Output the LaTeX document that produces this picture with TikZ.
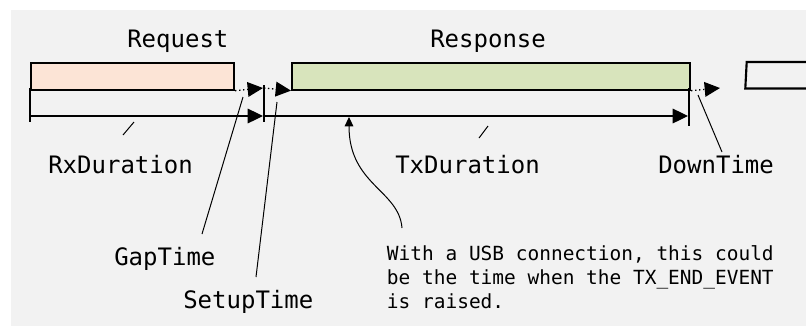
\documentclass[tikz,border=0pt]{standalone}
\usepackage{fontspec}
\setmonofont{DejaVu Sans Mono}
\usetikzlibrary{arrows.meta}
\definecolor{panel}{HTML}{F2F2F2}
\definecolor{reqfill}{HTML}{FCE4D6}
\definecolor{respfill}{HTML}{D8E4BC}
\begin{document}
\begin{tikzpicture}[x=0.75pt,y=-0.75pt,
  frame/.style={draw=black,line width=1.6pt},
  timeline/.style={line width=0.9pt},
  gapline/.style={line width=1pt,dotted},
  tip/.style={-{Triangle[length=11.5pt,width=11pt]}},
  tick/.style={line width=0.9pt},
  leader/.style={line width=0.75pt},
  biglabel/.style={anchor=base west,inner sep=0pt,font=\ttfamily\fontsize{18}{22}\selectfont},
  notelabel/.style={anchor=north west,inner sep=0pt,align=left,font=\ttfamily\fontsize{14.6}{18}\selectfont}]
\useasboundingbox (0,0) rectangle (806,326);
\fill[panel] (11,10) rectangle (806,326);

% frames on the bus
\node[frame,fill=reqfill,anchor=north west,minimum width=203*0.75pt,minimum height=27*0.75pt,inner sep=0pt] (req) at (30,61.5) {};
\node[frame,fill=respfill,anchor=north west,minimum width=398*0.75pt,minimum height=27*0.75pt,inner sep=0pt] (resp) at (291,61.5) {};
\draw[frame,fill=panel] (806,62) -- (746.7,62) -- (745.3,88.5) -- (806,88.5);

% tick marks of the time axis
\coordinate (t0top) at (30,88);   \coordinate (t0bot) at (30,122);
\coordinate (t1top) at (264,85);  \coordinate (t1bot) at (264,122);
\coordinate (t2top) at (689,88);  \coordinate (t2bot) at (689,126);
\draw[tick] (t0top) -- (t0bot);
\draw[tick] (t1top) -- (t1bot);
\draw[tick] (t2top) -- (t2bot);

% gap, setup and down times
\coordinate (gapend) at (263,88);
\coordinate (downend) at (720,88);
\draw[gapline,tip] (req.south east) -- (gapend);
\draw[gapline,tip] (t1top |- gapend) -- (resp.south west);
\draw[gapline,tip] (resp.south east) -- (downend);

% durations
\coordinate (rxstart) at (30,116);
\coordinate (rxend) at (263,116);
\coordinate (txstart) at (264,116);
\coordinate (txend) at (688,116);
\draw[timeline,tip] (rxstart) -- (rxend);
\draw[timeline,tip] (txstart) -- (txend);

% labels
\node[biglabel] (lreq) at (127,47) {Request};
\node[biglabel] (lresp) at (430,47) {Response};
\node[biglabel] (lrx) at (48,173) {RxDuration};
\node[biglabel] (ltx) at (395,173.5) {TxDuration};
\node[biglabel] (ldown) at (658,173) {DownTime};
\node[biglabel] (lgap) at (114,265.5) {GapTime};
\node[biglabel] (lsetup) at (183,308) {SetupTime};
\node[notelabel] (note) at (386.7,245.5) {With a USB connection, this could\\be the time when the TX\_END\_EVENT\\is raised.};

% label leaders
\draw[leader] (123,135) -- (134,122);
\draw[leader] (479,138) -- (488,126);
\draw[leader] (202,234) -- (243,97);
\draw[leader] (256,277) -- (277,102);
\draw[leader] (698,95) -- (722,152);

% pointer from the note to the time axis
\coordinate (notept) at (402,228);
\coordinate (evt) at (349,117);
\draw[leader,-{Triangle[length=7pt,width=6.5pt]}] (notept) .. controls (399,190) and (349,185) .. (evt);
\end{tikzpicture}
\end{document}
